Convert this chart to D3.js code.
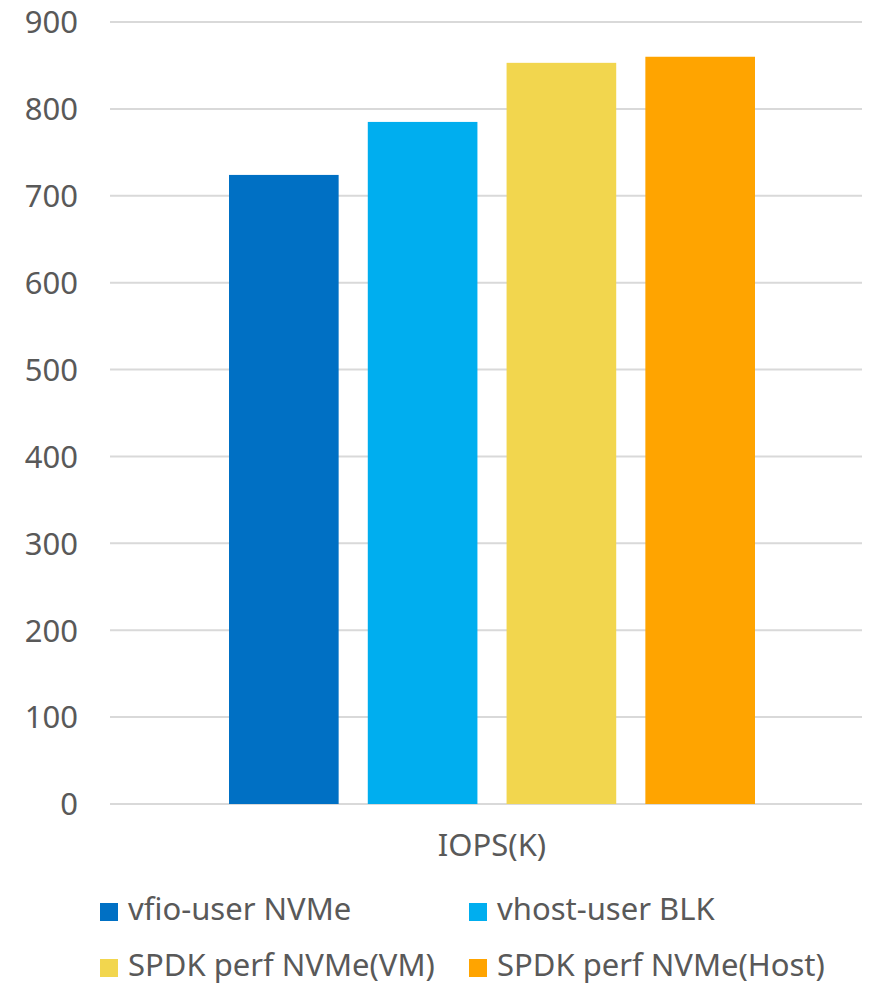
<!DOCTYPE html>
<html>
<head>
<meta charset="utf-8">
<script src="https://cdn.jsdelivr.net/npm/d3@7"></script>
<style>
  html, body { margin: 0; padding: 0; background: #fff; }
  svg { display: block; font-family: "Noto Sans", "Open Sans", sans-serif; }
</style>
</head>
<body>
<svg id="chart" width="884" height="984"></svg>
<script>
// IOPS (in thousands) per access method
const series = ["vfio-user NVMe", "vhost-user BLK", "SPDK perf NVMe(VM)", "SPDK perf NVMe(Host)"];
const values = [724, 785, 853, 860];
const colors = ["#0070c4", "#00aeef", "#f2d64e", "#ffa400"];
const category = "IOPS(K)";
const yTicks = [0, 100, 200, 300, 400, 500, 600, 700, 800, 900];

const svg = d3.select("#chart");
const textColor = "#595959";
const fontSize = "31px";

const plot = { left: 110, right: 862, top: 22, bottom: 804 };

const y = d3.scaleLinear().domain([0, 900]).range([plot.bottom, plot.top]);

// bars sit in a band centred within the category slot
const x = d3.scaleBand()
  .domain(series)
  .range([229, 755])
  .paddingInner(0.21)
  .paddingOuter(0);

// gridlines
svg.append("g")
  .selectAll("line")
  .data(yTicks)
  .join("line")
  .attr("x1", plot.left)
  .attr("x2", plot.right)
  .attr("y1", d => y(d))
  .attr("y2", d => y(d))
  .attr("stroke", "#d9d9d9")
  .attr("stroke-width", 2);

// y axis labels
const yAxis = d3.axisLeft(y).tickValues(yTicks).tickSize(0).tickPadding(0);
const gy = svg.append("g").attr("transform", "translate(78,0)").call(yAxis);
gy.select(".domain").remove();
gy.selectAll("text")
  .attr("fill", textColor)
  .style("font-size", fontSize)
  .style("font-family", "'Noto Sans', sans-serif")
  .attr("dy", "0.35em");

// bars
svg.append("g")
  .selectAll("rect")
  .data(series)
  .join("rect")
  .attr("x", d => x(d))
  .attr("width", x.bandwidth())
  .attr("y", (d, i) => y(values[i]))
  .attr("height", (d, i) => y(0) - y(values[i]))
  .attr("fill", (d, i) => colors[i]);

// category label
svg.append("text")
  .attr("x", 492)
  .attr("y", 848)
  .attr("text-anchor", "middle")
  .attr("dominant-baseline", "middle")
  .attr("fill", textColor)
  .style("font-size", fontSize)
  .text(category);

// legend
const legendPos = [[100, 912], [469, 912], [100, 968], [469, 968]];
const lg = svg.append("g")
  .selectAll("g")
  .data(series)
  .join("g")
  .attr("transform", (d, i) => `translate(${legendPos[i][0]},${legendPos[i][1]})`);
lg.append("rect")
  .attr("x", 0).attr("y", -9)
  .attr("width", 18).attr("height", 18)
  .attr("fill", (d, i) => colors[i]);
lg.append("text")
  .attr("x", 28)
  .attr("y", 0)
  .attr("dominant-baseline", "middle")
  .attr("fill", textColor)
  .style("font-size", fontSize)
  .text(d => d);
</script>
</body>
</html>
